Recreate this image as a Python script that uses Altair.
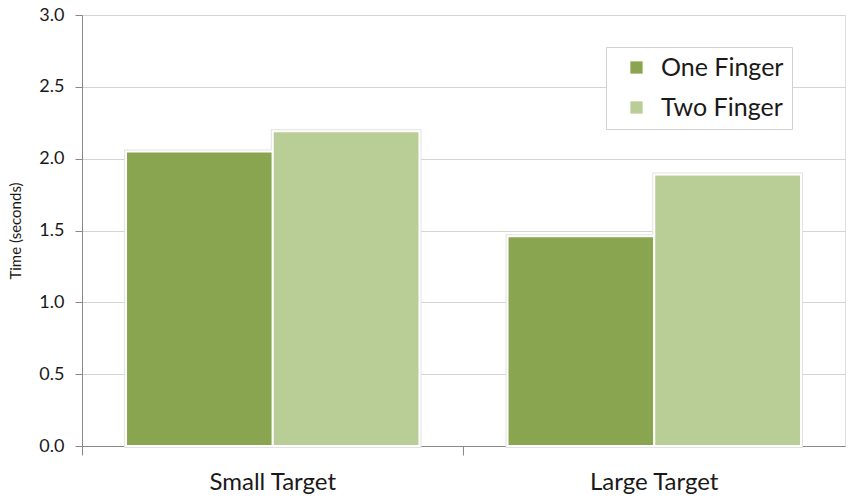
import altair as alt
import pandas as pd

targets = ["Small Target", "Small Target", "Large Target", "Large Target"]
fingers = ["One Finger", "Two Finger", "One Finger", "Two Finger"]
times = [2.05, 2.19, 1.46, 1.89]

cat_order = ["Small Target", "Large Target"]
series_order = ["One Finger", "Two Finger"]
colors = ["#8aa54f", "#b9ce96"]

df = pd.DataFrame({"target": targets, "finger": fingers, "time": times})

FONT = "Lato"
W, H = 763, 431

x_enc = alt.X(
    "target:N",
    sort=cat_order,
    scale=alt.Scale(paddingInner=0, paddingOuter=0),
    axis=alt.Axis(
        title=None,
        bandPosition=0,
        tickSize=9,
        tickColor="#888888",
        domainColor="#888888",
        labelFont=FONT,
        labelFontSize=24,
        labelColor="#1a1a1a",
        labelPadding=15,
        labelAngle=0,
        grid=False,
    ),
)
y_enc = alt.Y(
    "time:Q",
    scale=alt.Scale(domain=[0, 3.0], nice=False),
    axis=alt.Axis(
        title="Time (seconds)",
        titleFont=FONT,
        titleFontSize=15,
        titleFontWeight="normal",
        titleColor="#1a1a1a",
        titlePadding=15,
        values=[0, 0.5, 1.0, 1.5, 2.0, 2.5, 3.0],
        format=".1f",
        tickSize=7,
        tickColor="#888888",
        domainColor="#888888",
        gridColor="#d4d4d4",
        labelFont=FONT,
        labelFontSize=18,
        labelColor="#1a1a1a",
        labelPadding=11,
    ),
)
xoff = alt.XOffset(
    "finger:N",
    sort=series_order,
    scale=alt.Scale(paddingOuter=0.3, paddingInner=0),
)
color_enc = alt.Color(
    "finger:N",
    sort=series_order,
    scale=alt.Scale(domain=series_order, range=colors),
    legend=alt.Legend(
        title=None,
        orient="none",
        legendX=524,
        legendY=32,
        symbolType="square",
        symbolSize=150,
        symbolStrokeWidth=0,
        labelFont=FONT,
        labelFontSize=25,
        labelColor="#1a1a1a",
        labelLimit=300,
        rowPadding=14,
        padding=8,
        offset=0,
        strokeColor="#d0d0d0",
        fillColor="white",
        symbolOffset=10,
        labelOffset=12,
    ),
)

base = alt.Chart(df)
shadow = base.mark_bar(stroke="#e2e2e2", strokeWidth=4).encode(
    x=x_enc, y=y_enc, xOffset=xoff, color=color_enc
)
bars = base.mark_bar(stroke="white", strokeWidth=2).encode(
    x=x_enc, y=y_enc, xOffset=xoff, color=color_enc
)

chart = (
    alt.layer(shadow, bars)
    .properties(
        width=W,
        height=H,
        autosize=alt.AutoSizeParams(type="none"),
        padding={"left": 82, "top": 15, "right": 5, "bottom": 55},
    )
    .configure_view(stroke=None)
    .configure(background="white")
)

chart.save("out.html", embed_options={"renderer": "svg", "actions": False})
